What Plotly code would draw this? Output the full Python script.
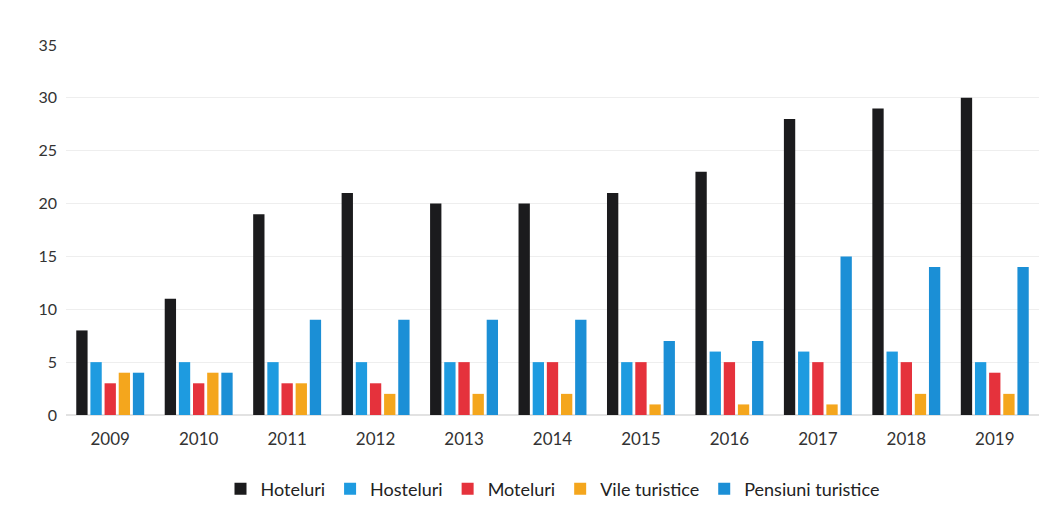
import plotly.graph_objects as go

years = ["2009", "2010", "2011", "2012", "2013", "2014", "2015", "2016", "2017", "2018", "2019"]
hoteluri = [8, 11, 19, 21, 20, 20, 21, 23, 28, 29, 30]
hosteluri = [5, 5, 5, 5, 5, 5, 5, 6, 6, 6, 5]
moteluri = [3, 3, 3, 3, 5, 5, 5, 5, 5, 5, 4]
vile = [4, 4, 3, 2, 2, 2, 1, 1, 1, 2, 2]
pensiuni = [4, 4, 9, 9, 9, 9, 7, 7, 15, 14, 14]

series = [
    ("Hoteluri", hoteluri, "#1b1b1d"),
    ("Hosteluri", hosteluri, "#1e9be0"),
    ("Moteluri", moteluri, "#e5323c"),
    ("Vile turistice", vile, "#f4a61d"),
    ("Pensiuni turistice", pensiuni, "#1b8fd6"),
]

fig = go.Figure()
for name, vals, col in series:
    fig.add_trace(go.Bar(x=years, y=vals, name=name, marker=dict(color=col, line=dict(width=0))))

fig.update_layout(
    width=1049, height=519,
    paper_bgcolor="white", plot_bgcolor="white",
    margin=dict(l=58, r=18, t=37, b=112),
    barmode="group", bargap=0.2, bargroupgap=0.2,
    font=dict(family="Lato, sans-serif", size=16, color="#333333"),
    legend=dict(orientation="h", x=0.5, xanchor="center", y=-0.2, yanchor="middle",
                font=dict(size=18, color="#222222"), itemwidth=30, traceorder="normal",
                tracegroupgap=0),
    xaxis=dict(showgrid=False, showline=False, ticks="", tickfont=dict(size=17),
               ticklabelstandoff=12),
    yaxis=dict(range=[0, 35], dtick=5, showgrid=True, gridcolor="#eeeeee", gridwidth=1,
               zeroline=True, zerolinecolor="#e2e2e2", ticks="", tickfont=dict(size=16),
               ticklabelstandoff=8),
)

fig.write_html("out.html")
